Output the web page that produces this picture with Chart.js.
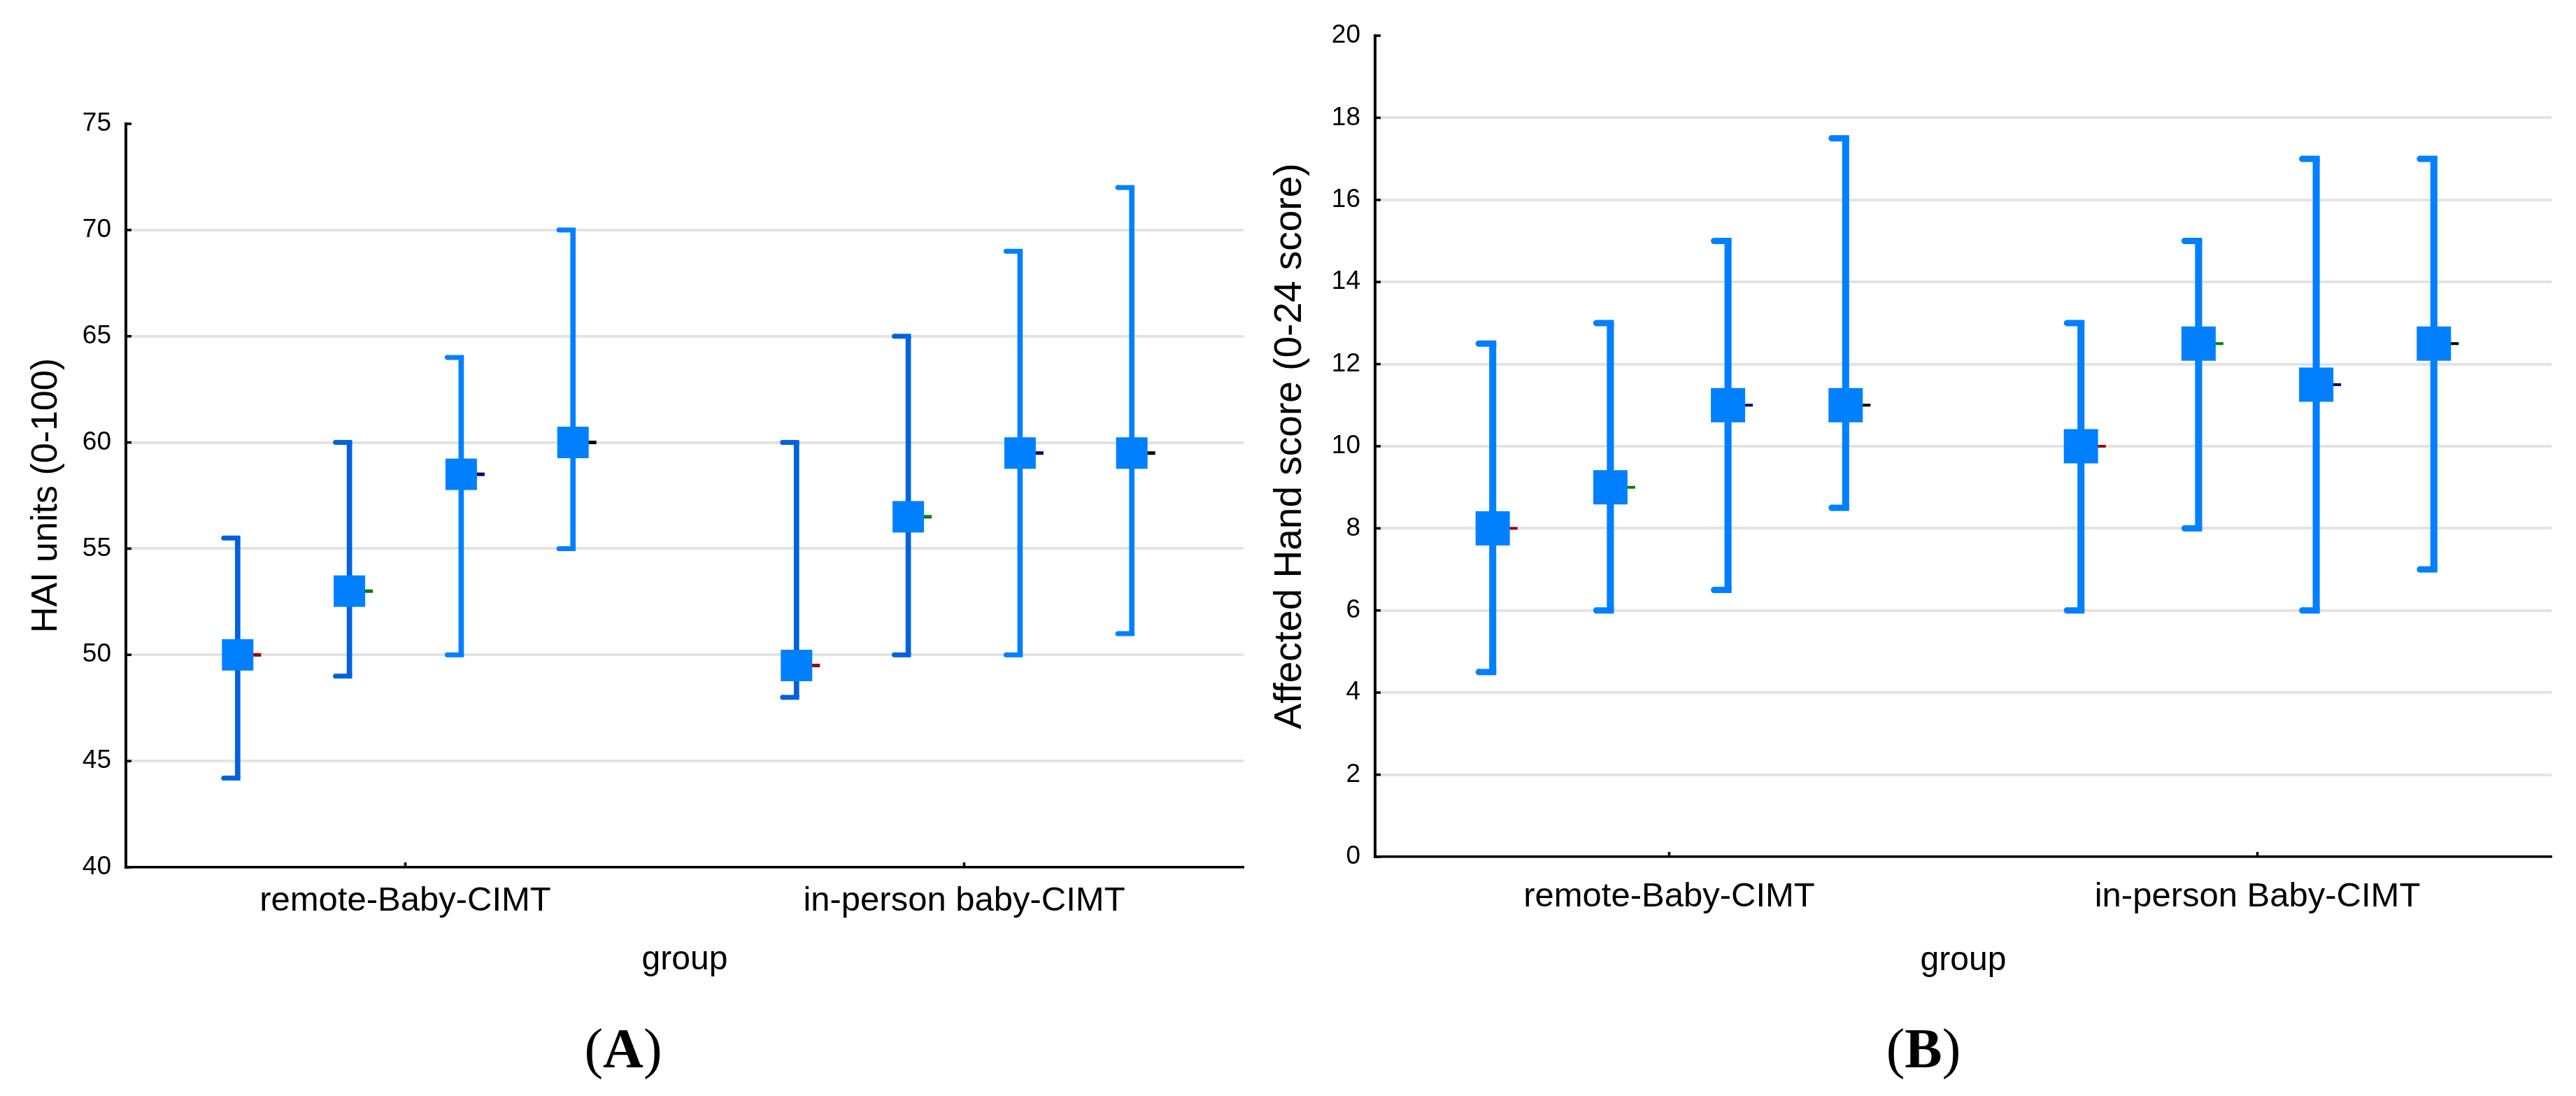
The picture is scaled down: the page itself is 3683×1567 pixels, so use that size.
<!DOCTYPE html>
<html>
<head>
<meta charset="utf-8">
<script src="https://cdn.jsdelivr.net/npm/chart.js@4.4.1/dist/chart.umd.min.js"></script>
<style>
  body { margin: 0; background: #fff; width: 3683px; height: 1567px; position: relative; overflow: hidden; }
  canvas { position: absolute; top: 0; }
  #chartA { left: 0; }
  #chartB { left: 1780px; }
  .panel { position: absolute; top: 1459px; width: 200px; text-align: center; font: 80px/80px "Liberation Serif", "Times New Roman", serif; }
</style>
</head>
<body>
<canvas id="chartA" width="1800" height="1440"></canvas>
<canvas id="chartB" width="1903" height="1440"></canvas>
<div class="panel" style="left:791px">(<b>A</b>)</div>
<div class="panel" style="left:2650px">(<b>B</b>)</div>
<script>
// rows = the four assessments, columns = the two groups
const haiGroups = ["remote-Baby-CIMT", "in-person baby-CIMT"];
const haiMean = [[50, 49.5], [53, 56.5], [58.5, 59.5], [60, 59.5]];
const haiLow = [[44.2, 48], [49, 50], [50, 50], [55, 51]];
const haiHigh = [[55.5, 60], [60, 65], [64, 69], [70, 72]];
const haiTicks = [40, 45, 50, 55, 60, 65, 70, 75];

const handGroups = ["remote-Baby-CIMT", "in-person Baby-CIMT"];
const handMean = [[8, 10], [9, 12.5], [11, 11.5], [11, 12.5]];
const handLow = [[4.5, 6], [6, 8], [6.5, 6], [8.5, 7]];
const handHigh = [[12.5, 13], [13, 15], [15, 17], [17.5, 17]];
const handTicks = [0, 2, 4, 6, 8, 10, 12, 14, 16, 18, 20];

const meanColors = ["#a00000", "#008000", "#000080", "#000000"];

Chart.defaults.font.family = '"Liberation Sans", Arial, sans-serif';
Chart.defaults.color = "#000";

function errorMarks(st) {
  return {
    id: "errorMarks",
    afterDatasetsDraw(chart) {
      let ctx = chart.ctx;
      let y = chart.scales.y;
      chart.data.datasets.forEach((ds, s) => {
        chart.getDatasetMeta(s).data.forEach((bar, i) => {
          let x = bar.x;
          let w = bar.width;
          ctx.save();
          ctx.fillStyle = ds.backgroundColor;
          ds.data[i].forEach((v) => {
            let py = y.getPixelForValue(v);
            // cap points to the left, rounded at its free end
            ctx.fillRect(x - st.cap, py - st.capW / 2, st.cap + w / 2, st.capW);
            ctx.beginPath();
            ctx.arc(x - st.cap, py, st.capW / 2, 0, Math.PI * 2);
            ctx.fill();
          });
          let pm = y.getPixelForValue(ds.mean[i]);
          ctx.fillStyle = meanColors[s];
          ctx.fillRect(x + st.box / 2 - 1, pm - st.tickW / 2, st.tick + 1, st.tickW);
          ctx.fillStyle = "#0080ff";
          ctx.fillRect(x - st.box / 2, pm - st.box / 2, st.box, st.box);
          ctx.restore();
        });
      });
    },
    afterDraw(chart) {
      let ctx = chart.ctx;
      let x = chart.scales.x;
      let y = chart.scales.y;
      ctx.save();
      ctx.strokeStyle = "#000";
      ctx.lineWidth = 3.5;
      y.ticks.forEach((t) => {
        let py = y.getPixelForValue(t.value);
        ctx.beginPath();
        ctx.moveTo(y.right, py);
        ctx.lineTo(y.right + 8, py);
        ctx.stroke();
      });
      chart.data.labels.forEach((l, i) => {
        let px = x.getPixelForValue(i);
        ctx.beginPath();
        ctx.moveTo(px, x.top);
        ctx.lineTo(px, x.top - 7);
        ctx.stroke();
      });
      ctx.restore();
    },
  };
}

function makeChart(id, groups, mean, low, high, ticks, yTitle, st) {
  let datasets = mean.map((m, s) => ({
    label: "assessment " + (s + 1),
    data: groups.map((g, i) => [low[s][i], high[s][i]]),
    mean: m,
    backgroundColor: st.whisker[s],
    borderWidth: 0,
    barPercentage: st.barPct,
    categoryPercentage: 0.8,
  }));
  let top = ticks[ticks.length - 1];

  return new Chart(document.getElementById(id), {
    type: "bar",
    data: { labels: groups, datasets: datasets },
    options: {
      responsive: false,
      animation: false,
      devicePixelRatio: 1,
      layout: { padding: { left: 0, top: st.top, right: st.right, bottom: 0 } },
      plugins: { legend: { display: false }, tooltip: { enabled: false } },
      scales: {
        x: {
          grid: { display: false, drawTicks: false },
          border: { color: "#000", width: 3.5 },
          ticks: { font: { size: 49 }, padding: st.xTickPad, maxRotation: 0 },
          title: { display: true, text: "group", font: { size: 48 }, padding: { top: 0, bottom: st.xTitlePad } },
          afterFit: (sc) => { sc.height = st.xHeight; },
        },
        y: {
          min: ticks[0],
          max: top,
          afterBuildTicks: (sc) => { sc.ticks = ticks.map((v) => ({ value: v })); },
          grid: {
            color: (c) => (c.tick && c.tick.value === top ? "rgba(0,0,0,0)" : "#e3e3e3"),
            lineWidth: 4,
            drawTicks: false,
          },
          border: { color: "#000", width: 4 },
          ticks: { font: { size: 37 }, padding: 21 },
          title: { display: true, text: yTitle, font: { size: st.yTitleSize }, padding: { top: st.yTitlePad, bottom: 0 } },
          afterFit: (sc) => { sc.width = st.yWidth; },
        },
      },
    },
    plugins: [errorMarks(st)],
  });
}

makeChart("chartA", haiGroups, haiMean, haiLow, haiHigh, haiTicks, "HAI units (0-100)", {
  whisker: ["#0062e0", "#0062e0", "#0080ff", "#0080ff"],
  barPct: 0.048, cap: 20, capW: 7, box: 45, tick: 11, tickW: 5,
  top: 177, right: 22, yWidth: 180, xHeight: 200,
  xTickPad: 19, xTitlePad: 38, yTitleSize: 52, yTitlePad: 35,
});

makeChart("chartB", handGroups, handMean, handLow, handHigh, handTicks, "Affected Hand score (0-24 score)", {
  whisker: ["#0080ff", "#0080ff", "#0080ff", "#0080ff"],
  barPct: 0.06, cap: 20, capW: 9, box: 49, tick: 11, tickW: 4,
  top: 51, right: 35, yWidth: 186, xHeight: 215,
  xTickPad: 28, xTitlePad: 37, yTitleSize: 55, yTitlePad: 32,
});
</script>
</body>
</html>
